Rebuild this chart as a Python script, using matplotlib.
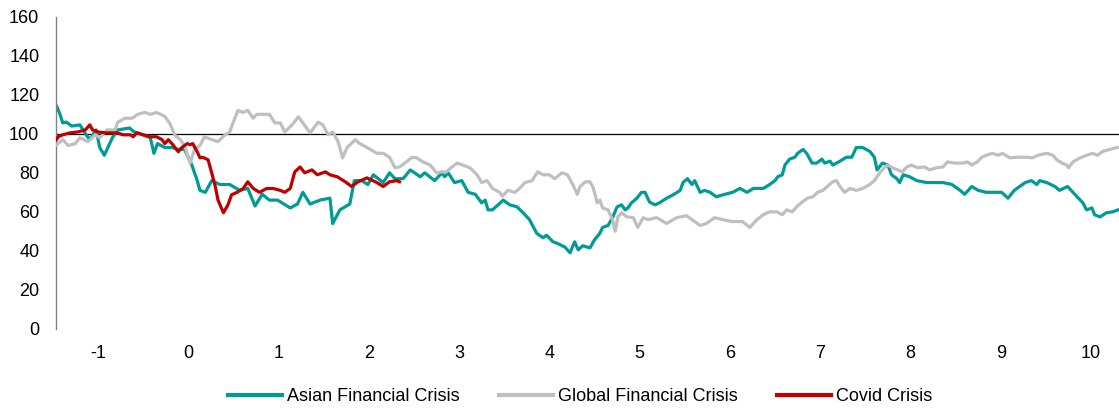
import matplotlib
matplotlib.use('Agg')
import matplotlib.pyplot as plt

# years relative to crisis start, index value (start = 100)
asian_x = [-1.456, -1.42, -1.39, -1.35, -1.29, -1.20, -1.13, -1.09, -1.02, -0.98, -0.93, -0.84, -0.78,
           -0.65, -0.60, -0.53, -0.42, -0.38, -0.34, -0.26, -0.18, -0.11, -0.04, 0.04, 0.10, 0.13, 0.19,
           0.26, 0.35, 0.46, 0.57, 0.66, 0.74, 0.82, 0.90, 0.99, 1.13, 1.21, 1.27, 1.35, 1.46, 1.57, 1.60,
           1.68, 1.79, 1.84, 1.92, 1.99, 2.05, 2.16, 2.23, 2.29, 2.38, 2.46, 2.57, 2.62, 2.73, 2.81, 2.84,
           2.88, 2.95, 3.03, 3.10, 3.18, 3.25, 3.29, 3.32, 3.37, 3.49, 3.56, 3.64, 3.71, 3.78, 3.86, 3.93,
           3.97, 4.04, 4.08, 4.17, 4.23, 4.28, 4.32, 4.37, 4.45, 4.50, 4.56, 4.59, 4.65, 4.70, 4.75, 4.80,
           4.84, 4.87, 4.91, 4.97, 5.02, 5.06, 5.11, 5.17, 5.22, 5.30, 5.37, 5.45, 5.48, 5.53, 5.58, 5.61,
           5.67, 5.72, 5.78, 5.85, 5.92, 6.03, 6.11, 6.19, 6.26, 6.37, 6.44, 6.50, 6.53, 6.58, 6.61, 6.66,
           6.72, 6.75, 6.81, 6.85, 6.91, 6.96, 7.02, 7.05, 7.11, 7.14, 7.22, 7.29, 7.35, 7.40, 7.47, 7.55,
           7.60, 7.63, 7.69, 7.75, 7.79, 7.85, 7.88, 7.92, 7.99, 8.07, 8.18, 8.25, 8.36, 8.46, 8.55, 8.60,
           8.68, 8.75, 8.84, 8.96, 9.01, 9.08, 9.15, 9.27, 9.34, 9.40, 9.43, 9.51, 9.60, 9.65, 9.74, 9.82,
           9.91, 9.95, 10.01, 10.04, 10.10, 10.17, 10.24, 10.30]
asian_y = [114, 110, 105.6, 106, 104, 104.6, 99.5, 97, 102, 93, 89, 98, 102,
           103, 101, 100, 98, 90, 95, 93, 93, 92, 92, 84, 76, 71, 70,
           76, 74, 74, 71, 72, 63, 69, 66, 66, 62, 64, 70, 64, 66, 67, 54,
           61, 64, 76, 76, 74, 79, 75, 80, 77, 77, 81.5, 78, 80, 76, 80, 78,
           80, 75, 76, 70, 69, 64.6, 66, 61, 61, 66, 63.6, 62.6, 59.5, 56, 49, 46.7,
           48, 44.6, 44, 42, 39, 44.6, 40.5, 42.6, 41.5, 45.6, 49, 52, 53, 57, 62.5, 63.6,
           61, 62, 64.6, 67, 70, 70, 65, 63.6, 64.6, 67, 68.7, 71, 75, 77, 74, 76,
           70, 71, 70, 67.7, 68.7, 70, 72, 70, 72, 72, 74, 76, 78, 79, 84, 87,
           88, 90, 92, 90, 85, 85, 87, 85, 86, 84, 86, 88, 88, 93, 93, 91,
           88, 81.5, 85, 84, 79, 77, 75, 79, 78, 76, 75, 75, 75, 74, 71, 69,
           73, 71, 70, 70, 70, 67, 71, 75, 76, 74, 76, 75, 73, 71, 73, 69,
           64.6, 61, 62, 58.5, 57.4, 59.5, 60, 61]

gfc_x = [-1.456, -1.39, -1.33, -1.25, -1.20, -1.11, -1.03, -0.98, -0.90, -0.81, -0.78, -0.70, -0.62,
         -0.56, -0.48, -0.42, -0.35, -0.26, -0.20, -0.15, -0.09, -0.04, 0.02, 0.07, 0.13, 0.18, 0.26,
         0.33, 0.41, 0.46, 0.50, 0.55, 0.61, 0.66, 0.72, 0.76, 0.83, 0.90, 0.96, 1.02, 1.07, 1.15, 1.22,
         1.27, 1.35, 1.44, 1.49, 1.55, 1.60, 1.66, 1.71, 1.76, 1.85, 1.90, 1.98, 2.09, 2.16, 2.23, 2.29,
         2.34, 2.40, 2.48, 2.53, 2.60, 2.68, 2.75, 2.81, 2.86, 2.92, 2.98, 3.04, 3.12, 3.20, 3.25, 3.31,
         3.37, 3.45, 3.48, 3.54, 3.62, 3.67, 3.73, 3.81, 3.87, 3.93, 4.00, 4.06, 4.14, 4.20, 4.26, 4.31,
         4.34, 4.40, 4.45, 4.48, 4.50, 4.53, 4.56, 4.59, 4.65, 4.70, 4.73, 4.76, 4.80, 4.86, 4.93, 4.98,
         5.04, 5.09, 5.19, 5.30, 5.41, 5.52, 5.61, 5.67, 5.74, 5.83, 5.92, 6.03, 6.14, 6.22, 6.30, 6.37,
         6.44, 6.52, 6.58, 6.63, 6.69, 6.74, 6.80, 6.86, 6.92, 6.97, 7.03, 7.08, 7.14, 7.18, 7.22, 7.27,
         7.33, 7.40, 7.47, 7.55, 7.60, 7.66, 7.71, 7.75, 7.80, 7.86, 7.91, 7.96, 8.01, 8.08, 8.16, 8.21,
         8.29, 8.36, 8.41, 8.49, 8.58, 8.63, 8.68, 8.74, 8.79, 8.84, 8.91, 8.97, 9.02, 9.10, 9.18, 9.29,
         9.35, 9.41, 9.51, 9.58, 9.62, 9.68, 9.73, 9.75, 9.80, 9.88, 9.95, 10.02, 10.07, 10.13, 10.21, 10.29]
gfc_y = [94.4, 97, 94, 95, 98, 96, 99.5, 98, 102, 102, 106, 108, 108,
         110, 111, 110, 111, 109, 105, 99.5, 97, 94, 85, 92, 94, 98.5, 97,
         96, 99.5, 101, 106, 112, 111, 112, 108, 110, 110, 110, 105.6, 105.6, 101, 104.6, 108.7,
         105.6, 100.5, 106, 104.6, 99.5, 101, 96, 87.7, 93, 97, 95, 93, 90, 90, 88, 82.6,
         83, 85, 88, 87.7, 85.6, 84, 80, 80.5, 80.5, 83, 85, 84, 82.6, 79, 75, 76,
         72, 70, 68, 71, 70, 72, 75, 76, 80.5, 79, 79, 77, 80, 79, 74, 69,
         73, 75.4, 75.4, 73, 70, 64.6, 66, 62, 61, 56, 50, 57.4, 59.5, 57.4, 57, 52,
         57, 56, 57, 54, 57, 58, 55, 53, 54, 57, 56, 55, 55, 52, 56, 58.5,
         60, 60, 58.5, 61, 60, 62.6, 65, 67, 67.7, 70, 71, 73, 75.4, 76, 73, 70,
         72, 71, 72, 74, 76, 80, 82.6, 84, 82.6, 81.5, 80.5, 83, 84, 82.6, 83, 81.5,
         82.6, 83, 85.6, 85, 85, 85.6, 84, 85.6, 88, 89, 90, 89, 90, 87.7, 88, 88,
         87.7, 89, 90, 89, 86.7, 85, 84, 82.6, 85.6, 87.7, 89, 90, 89, 91, 92, 93]

covid_x = [-1.46, -1.44, -1.39, -1.31, -1.22, -1.14, -1.09, -1.06, -1.00, -0.92, -0.87, -0.79, -0.72,
           -0.64, -0.61, -0.57, -0.50, -0.42, -0.35, -0.29, -0.26, -0.22, -0.17, -0.11, -0.07, -0.01, 0.02,
           0.05, 0.10, 0.13, 0.16, 0.22, 0.26, 0.30, 0.33, 0.39, 0.44, 0.48, 0.54, 0.61, 0.66, 0.72, 0.79,
           0.87, 0.94, 1.02, 1.07, 1.13, 1.18, 1.24, 1.29, 1.37, 1.43, 1.52, 1.57, 1.65, 1.74, 1.81, 1.88,
           1.98, 2.09, 2.16, 2.23, 2.31, 2.34]
covid_y = [97, 98.5, 99.5, 100.5, 101, 102, 104.6, 102, 101, 100.5, 100.5, 100.5, 99.5,
           99.5, 98.5, 100.5, 99.5, 98.5, 98.5, 97, 95, 97, 94.4, 90.8, 93, 95, 94.4,
           95, 90.8, 87.7, 88, 86.7, 80, 73, 66, 59.5, 63.6, 68.7, 70, 72, 75.4, 72, 70,
           72, 72, 71, 70, 72, 80.5, 83, 80, 81.5, 79, 80.5, 79, 78, 75.4, 73, 75.4,
           77.4, 75, 73, 75.4, 76, 75.4]

x_ticks = list(range(-1, 11))
y_ticks = [0, 20, 40, 60, 80, 100, 120, 140, 160]

plt.rcParams['font.family'] = ['Liberation Sans', 'DejaVu Sans']
plt.rcParams['axes.unicode_minus'] = False

fig = plt.figure(figsize=(11.19, 4.11), dpi=100)
ax = fig.add_axes([0.05, 0.2, 0.95, 0.759])

ax.axhline(100, color='black', linewidth=0.9, zorder=1)
ax.plot(asian_x, asian_y, color='#009B95', linewidth=2.3, label='Asian Financial Crisis', zorder=2)
ax.plot(gfc_x, gfc_y, color='#BFBFBF', linewidth=2.3, label='Global Financial Crisis', zorder=3)
ax.plot(covid_x, covid_y, color='#C00000', linewidth=2.3, label='Covid Crisis', zorder=4)

ax.set_xlim(-1.465, 10.31)
ax.set_ylim(0, 160)
ax.set_xticks(x_ticks)
ax.set_yticks(y_ticks)
ax.tick_params(axis='both', length=0, labelsize=13, colors='black')
ax.tick_params(axis='y', pad=12)
ax.tick_params(axis='x', pad=12)

for side in ['top', 'right', 'bottom']:
    ax.spines[side].set_visible(False)
ax.spines['left'].set_color('#808080')
ax.spines['left'].set_linewidth(1)

leg = ax.legend(loc='center', bbox_to_anchor=(0.493, -0.218), ncol=3, frameon=False, fontsize=13,
                handlelength=3.0, handletextpad=0.25, columnspacing=2.2)
for line in leg.get_lines():
    line.set_linewidth(3)

fig.savefig('out.png', dpi=100)
